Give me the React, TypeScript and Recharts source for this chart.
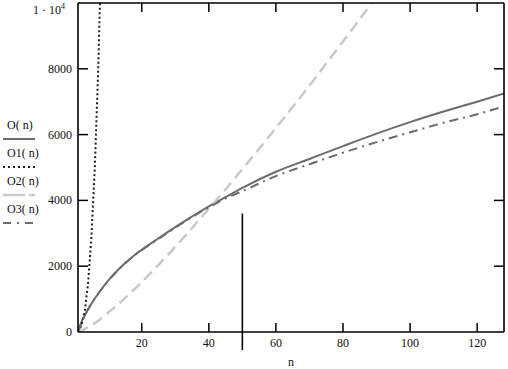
import React from "react";
import { LineChart, Line, XAxis, YAxis, ReferenceLine } from "recharts";

// values
const nO = [1, 2, 3, 5, 8, 10, 12, 15, 18, 20, 25, 30, 35, 40, 45, 50, 60, 70, 80, 90, 100, 110, 120, 128];
const valO = [0, 300, 500, 860, 1300, 1560, 1790, 2090, 2350, 2500, 2850, 3190, 3510, 3820, 4100, 4380, 4870, 5260, 5650, 6030, 6380, 6700, 7000, 7250];

const nO1 = [1, 2, 3, 4, 5, 6, 7, 8];
const valO1 = [0, 190, 620, 1480, 2880, 4970, 7890, 11780];

const nO2 = [1, 2, 3, 5, 10, 15, 20, 25, 30, 35, 40, 45, 50, 55, 60, 65, 70, 75, 80, 85, 90];
const valO2 = [0, 40, 90, 200, 590, 1030, 1520, 2040, 2590, 3160, 3750, 4340, 4950, 5570, 6200, 6840, 7490, 8160, 8830, 9510, 10200];

const nO3 = [1, 3, 5, 8, 10, 12, 15, 18, 20, 25, 30, 35, 40, 45, 50, 60, 70, 80, 90, 100, 110, 120, 128];
const valO3 = [0, 500, 860, 1300, 1560, 1780, 2080, 2340, 2490, 2830, 3170, 3490, 3790, 4060, 4280, 4740, 5100, 5450, 5770, 6070, 6360, 6620, 6860];

const xTicks = [20, 40, 60, 80, 100, 120];
const yTicks = [2000, 4000, 6000, 8000];
const yLabels = [0, 2000, 4000, 6000, 8000, 10000];
const xMin = 1;
const xMax = 128;
const yMax = 10000;
const markerN = 50;

// inward tick lengths in data units (~9px / ~10px)
const xTickLen = 275;
const yTickLen = 3;

const font = "Liberation Serif, DejaVu Serif, serif";

const toRows = (ns: number[], vs: number[]) => ns.map((n, i) => ({ n, v: vs[i] }));

const series = [
  { key: "O", label: "O( n)", rows: toRows(nO, valO), color: "#6c6c6c", width: 2, dash: undefined, legendDash: undefined, curve: "monotone" },
  { key: "O1", label: "O1( n)", rows: toRows(nO1, valO1), color: "#1c1c1c", width: 2, dash: "2 2.5", legendDash: "2 3", curve: "linear" },
  { key: "O2", label: "O2( n)", rows: toRows(nO2, valO2), color: "#c9c9c9", width: 2.5, dash: "11 6", legendDash: "22 4", curve: "monotone" },
  { key: "O3", label: "O3( n)", rows: toRows(nO3, valO3), color: "#6c6c6c", width: 2, dash: "9 5 2 5", legendDash: "8 6 2 6", curve: "monotone" }
];

const axisLineStyle = { stroke: "#000", strokeWidth: 1.6 };

function BottomLabel({ x, y, payload }: any) {
  return (
    <text x={x} y={y + 15} textAnchor="middle" fontFamily={font} fontSize={12} fill="#111">
      {payload.value}
    </text>
  );
}

function LeftLabel({ y, payload }: any) {
  if (payload.value === 10000) {
    return (
      <text x={33} y={y + 5} fontFamily={font} fontSize={12} fill="#111" xmlSpace="preserve">
        {"1 · 10"}
        <tspan dy={-5} fontSize={8}>4</tspan>
      </text>
    );
  }
  return (
    <text x={72} y={y + 4} textAnchor="end" fontFamily={font} fontSize={12} fill="#111">
      {payload.value}
    </text>
  );
}

function SideLegend() {
  return (
    <div style={{ position: "absolute", left: 0, top: 118, fontFamily: font, fontSize: 12, color: "#111" }}>
      {series.map((s) => (
        <div key={s.key} style={{ height: 28 }}>
          <div style={{ height: 14, lineHeight: "14px", paddingLeft: 7 }}>{s.label}</div>
          <svg width={40} height={14} style={{ display: "block" }}>
            <line x1={3} y1={7} x2={35} y2={7} stroke={s.color} strokeWidth={s.width} strokeDasharray={s.legendDash} />
          </svg>
        </div>
      ))}
    </div>
  );
}

const seg = (key: string, a: { x: number; y: number }, b: { x: number; y: number }) => (
  <ReferenceLine
    key={key}
    xAxisId="b"
    yAxisId="l"
    segment={[a, b]}
    ifOverflow="visible"
    stroke="#000"
    strokeWidth={1.5}
  />
);

export default function App() {
  return (
    <div style={{ position: "absolute", left: 0, top: 0, width: 508, height: 369, background: "#fff" }}>
      <LineChart width={508} height={369} margin={{ top: 3, right: 4, left: 0, bottom: 0 }}>
        <XAxis
          xAxisId="b"
          type="number"
          dataKey="n"
          domain={[xMin, xMax]}
          ticks={xTicks}
          allowDataOverflow
          height={37}
          tickLine={false}
          tickSize={0}
          tickMargin={0}
          tick={<BottomLabel />}
          axisLine={axisLineStyle}
          label={{ value: "n", position: "insideBottom", offset: 3, fontFamily: font, fontSize: 12, fill: "#111" }}
        />
        <YAxis
          yAxisId="l"
          type="number"
          domain={[0, yMax]}
          ticks={yLabels}
          allowDataOverflow
          width={78}
          tickLine={false}
          tickSize={0}
          tickMargin={0}
          tick={<LeftLabel />}
          axisLine={axisLineStyle}
        />
        {series.map((s) => (
          <Line
            key={s.key}
            xAxisId="b"
            yAxisId="l"
            data={s.rows}
            dataKey="v"
            type={s.curve as any}
            stroke={s.color}
            strokeWidth={s.width}
            strokeDasharray={s.dash}
            dot={false}
            activeDot={false}
            isAnimationActive={false}
          />
        ))}
        {/* frame: top and right edges */}
        <ReferenceLine xAxisId="b" yAxisId="l" y={yMax} stroke="#000" strokeWidth={1.6} ifOverflow="visible" />
        <ReferenceLine xAxisId="b" yAxisId="l" x={xMax} stroke="#000" strokeWidth={1.6} ifOverflow="visible" />
        {/* inward tick marks on all four sides */}
        {xTicks.map((t) => seg(`xb${t}`, { x: t, y: 0 }, { x: t, y: xTickLen }))}
        {xTicks.map((t) => seg(`xt${t}`, { x: t, y: yMax }, { x: t, y: yMax - xTickLen }))}
        {yTicks.map((t) => seg(`yl${t}`, { x: xMin, y: t }, { x: xMin + yTickLen, y: t }))}
        {yTicks.map((t) => seg(`yr${t}`, { x: xMax, y: t }, { x: xMax - yTickLen, y: t }))}
        <ReferenceLine
          xAxisId="b"
          yAxisId="l"
          segment={[
            { x: markerN, y: 3600 },
            { x: markerN, y: -550 }
          ]}
          ifOverflow="visible"
          stroke="#000"
          strokeWidth={1.6}
        />
      </LineChart>
      <SideLegend />
    </div>
  );
}
